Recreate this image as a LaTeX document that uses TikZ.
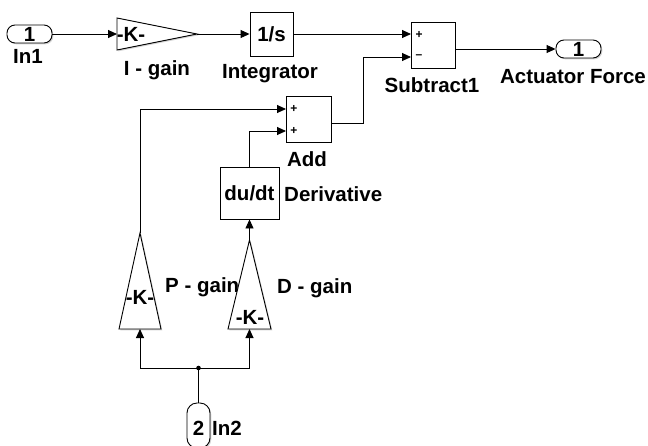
\documentclass[tikz,border=0pt]{standalone}
\usepackage{fontspec}
\setmainfont{Liberation Sans}
\usetikzlibrary{arrows.meta, shadows}
\tikzstyle{blk} = [draw, fill=white, line width=0.9pt, inner sep=0pt, drop shadow={shadow xshift=1.3pt, shadow yshift=-1.3pt, opacity=0.35}, font=\bfseries\fontsize{20.5}{23}\selectfont]
\tikzstyle{port} = [blk, rounded corners=8pt, minimum width=45pt, minimum height=18pt]
\tikzstyle{tri} = [draw, fill=white, line width=0.9pt, drop shadow={shadow xshift=1.3pt, shadow yshift=-1.3pt, opacity=0.35}]
\tikzstyle{lbl} = [font=\bfseries\fontsize{20.5}{23}\selectfont, inner sep=0pt]
\tikzstyle{sgn} = [font=\bfseries\fontsize{12}{13}\selectfont, inner sep=0pt]
\tikzstyle{wire} = [draw, line width=0.9pt, -{Triangle[length=9pt, width=8pt]}]
\tikzstyle{line} = [draw, line width=0.9pt]

\begin{document}
\begin{tikzpicture}[x=1pt, y=-1pt]
	\useasboundingbox (0,0) rectangle (648,445);
	% blocks
	\node[port] (in1) at (29.5,34) {1};
	\node[lbl] at (28,56) {In1};
	\coordinate (igin) at (117,34);
	\coordinate (igout) at (197,34);
	\draw[tri] (117,18) -- (igout) -- (117,50) -- cycle;
	\node[lbl] at (131,34) {-K-};
	\node[lbl] at (157,70) {I - gain};
	\node[blk, minimum width=43pt, minimum height=44pt] (integ) at (271.5,34) {1/s};
	\node[lbl] at (270,74) {Integrator};
	\node[blk, minimum width=44pt, minimum height=46pt] (sub) at (433,45) {};
	\coordinate (subp) at (411,34);
	\coordinate (subm) at (411,57);
	\coordinate (subout) at (455,49);
	\node[sgn] at (419,35) {+};
	\node[sgn] at (419,57) {–};
	\node[lbl] at (432,85) {Subtract1};
	\node[port] (out1) at (578.5,49) {1};
	\node[lbl] at (573,77) {Actuator Force};
	\node[blk, minimum width=45pt, minimum height=46pt] (add) at (308.5,119) {};
	\coordinate (addp1) at (286,109);
	\coordinate (addp2) at (286,131);
	\coordinate (addout) at (331,123);
	\node[sgn] at (294,109) {+};
	\node[sgn] at (294,131) {+};
	\node[lbl] at (307,159) {Add};
	\node[blk, minimum width=59pt, minimum height=52pt] (deriv) at (249.5,193) {du/dt};
	\node[lbl, anchor=west] at (284,194) {Derivative};
	\coordinate (papex) at (140,233);
	\coordinate (pbase) at (140,329);
	\draw[tri] (119,329) -- (papex) -- (161,329) -- cycle;
	\node[lbl] at (140,297) {-K-};
	\node[lbl, anchor=west] at (165,287) {P - gain};
	\coordinate (dapex) at (249.5,240);
	\coordinate (dbase) at (249.5,329);
	\draw[tri] (228,329) -- (dapex) -- (271,329) -- cycle;
	\node[lbl] at (250,317) {-K-};
	\node[lbl, anchor=west] at (277,288) {D - gain};
	\node[blk, rounded corners=10pt, minimum width=23pt, minimum height=45pt] (in2) at (198.5,425.5) {};
	\node[lbl] at (198.5,428) {2};
	\node[lbl, anchor=west] at (212,428) {In2};
	\coordinate (split) at (198.5,368);
	% connectors
	\draw[wire] (in1) -- (igin);
	\draw[wire] (igout) -- (integ);
	\draw[wire] (integ.east) -- (subp);
	\draw[wire] (subout) -- (out1);
	\draw[wire] (addout) -- ++(32,0) |- (subm);
	\draw[wire] (papex) |- (addp1);
	\draw[wire] (deriv.north) |- (addp2);
	\draw[wire] (dapex) -- (deriv.south);
	\draw[line] (in2) -- (split);
	\draw[wire] (split) -| (pbase);
	\draw[wire] (split) -| (dbase);
	\fill (split) circle (2.3pt);
\end{tikzpicture}
\end{document}
